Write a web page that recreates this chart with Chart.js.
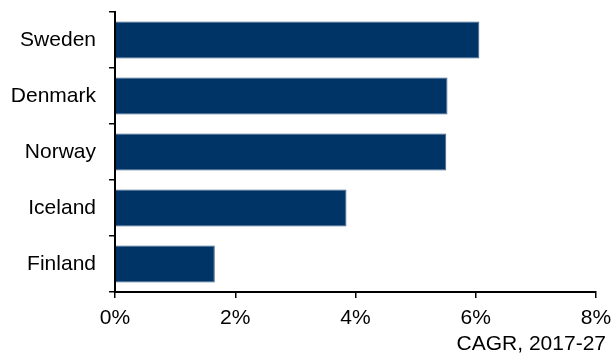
<!DOCTYPE html>
<html>
<head>
<meta charset="utf-8">
<script src="https://cdn.jsdelivr.net/npm/chart.js@4/dist/chart.umd.min.js"></script>
<style>
  html, body { margin: 0; padding: 0; background: #ffffff; }
  #wrap { position: relative; width: 613px; height: 357px; }
</style>
</head>
<body>
<div id="wrap"><canvas id="bar-chart"></canvas></div>
<script>
// data
const countries = ["Sweden", "Denmark", "Norway", "Iceland", "Finland"];
const cagr = [6.06, 5.53, 5.51, 3.85, 1.66];
const xTicks = [0, 2, 4, 6, 8];
const axisTitle = "CAGR, 2017-27";

const navy = "#003366";
const labelFont = { family: "Arial, 'Liberation Sans', sans-serif", size: 21 };

const ctx = document.getElementById("bar-chart").getContext("2d");

new Chart(ctx, {
  type: "bar",
  data: {
    labels: countries,
    datasets: [
      {
        data: cagr,
        backgroundColor: navy,
        borderColor: "#3f638d",
        borderWidth: 1,
        categoryPercentage: 1,
        barPercentage: 0.66,
      },
    ],
  },
  options: {
    indexAxis: "y",
    responsive: true,
    maintainAspectRatio: false,
    animation: false,
    layout: { padding: { top: 12, right: 7, bottom: 0, left: 0 } },
    plugins: {
      legend: { display: false },
      tooltip: { enabled: false },
      title: {
        display: true,
        text: axisTitle,
        position: "bottom",
        align: "end",
        color: "#000000",
        font: { ...labelFont, weight: "normal" },
        padding: { top: 0, bottom: 0 },
      },
    },
    scales: {
      x: {
        type: "linear",
        min: 0,
        max: 8,
        afterBuildTicks: (scale) => {
          scale.ticks = xTicks.map((v) => ({ value: v }));
        },
        ticks: {
          color: "#000000",
          font: labelFont,
          padding: 8,
          maxRotation: 0,
          callback: (v) => v + "%",
        },
        grid: {
          drawOnChartArea: false,
          drawTicks: true,
          tickLength: 6,
          color: "#000000",
          lineWidth: 1.5,
        },
        border: { display: true, color: "#000000", width: 2 },
        afterFit: (scale) => {
          scale.paddingLeft = 0;
          scale.paddingRight = 17;
          scale.height = 39.8;
        },
      },
      y: {
        ticks: {
          color: "#000000",
          font: labelFont,
          padding: 13,
        },
        grid: {
          drawOnChartArea: false,
          drawTicks: true,
          tickLength: 6,
          color: "#000000",
          lineWidth: 1.5,
        },
        border: { display: true, color: "#000000", width: 2 },
        afterFit: (scale) => {
          scale.width = 115;
          scale.paddingTop = 0;
          scale.paddingBottom = 0;
        },
      },
    },
  },
});
</script>
</body>
</html>
